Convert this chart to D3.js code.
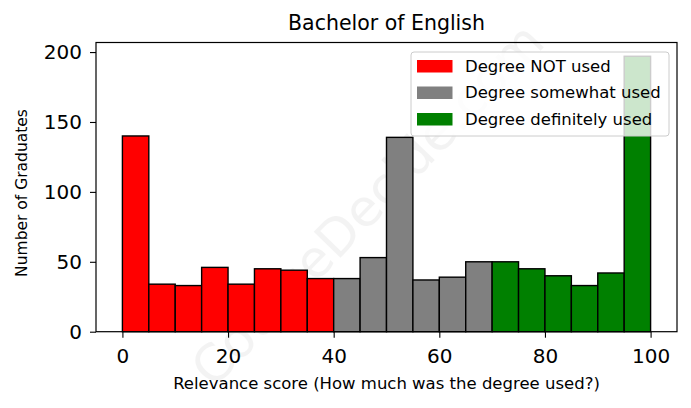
<!DOCTYPE html>
<html><head><meta charset="utf-8">
<script src="https://cdn.jsdelivr.net/npm/d3@7"></script>
<style>body{margin:0;background:#fff}svg{display:block}text{font-family:"DejaVu Sans",sans-serif}</style>
</head><body>
<svg id="c" width="691" height="408"></svg>
<script>
const binStarts = [0,5,10,15,20,25,30,35,40,45,50,55,60,65,70,75,80,85,90,95];
const counts = [140,34,33,46,34,45,44,38,38,53,139,37,39,50,50,45,40,33,42,197];
const groups = ["Degree NOT used","Degree somewhat used","Degree definitely used"];
const groupColors = ["#ff0000","#808080","#008000"];
const groupLimits = [40,70,100];
const xTicks = [0,20,40,60,80,100];
const yTicks = [0,50,100,150,200];
const binWidth = 5;

const svg = d3.select("#c");
const L=96,R=677,T=42.5,B=331.7;
const x = d3.scaleLinear().domain([-5,105]).range([L,R]);
const y = d3.scaleLinear().domain([0,d3.max(counts)*1.05]).range([B,T]);
const groupOf = s => groupLimits.findIndex(l => s < l);

// watermark
svg.append("text").attr("transform","translate(370,207) rotate(-46)")
  .attr("text-anchor","middle").attr("dominant-baseline","middle")
  .attr("font-size",51).attr("fill","#000").attr("opacity",0.045)
  .text("CourseDecide.com");

svg.append("g").selectAll("rect").data(binStarts).join("rect")
  .attr("x",d=>x(d)).attr("width",d=>x(d+binWidth)-x(d))
  .attr("y",(d,i)=>y(counts[i])).attr("height",(d,i)=>y(0)-y(counts[i]))
  .attr("fill",d=>groupColors[groupOf(d)]).attr("stroke","#000").attr("stroke-width",1.4);

const xa = svg.append("g").attr("transform",`translate(0,${B})`)
  .call(d3.axisBottom(x).tickValues(xTicks).tickSize(6).tickFormat(d3.format("d")));
const ya = svg.append("g").attr("transform",`translate(${L},0)`)
  .call(d3.axisLeft(y).tickValues(yTicks).tickSize(6).tickPadding(8).tickFormat(d3.format("d")));
[xa,ya].forEach(a=>{a.select(".domain").remove();a.selectAll("line").attr("stroke","#000").attr("stroke-width",1.1);
  a.selectAll("text").attr("font-size",20).attr("fill","#000").attr("font-family","DejaVu Sans");});
xa.selectAll("text").attr("y",363.3-B).attr("dy",0);

svg.append("rect").attr("x",L).attr("y",T).attr("width",R-L).attr("height",B-T)
  .attr("fill","none").attr("stroke","#000").attr("stroke-width",1.2);

svg.append("text").attr("x",(L+R)/2).attr("y",30).attr("text-anchor","middle")
  .attr("font-size",20.5).attr("fill","#000").text("Bachelor of English");
svg.append("text").attr("x",(L+R)/2).attr("y",389).attr("text-anchor","middle")
  .attr("font-size",16.5).attr("fill","#000").text("Relevance score (How much was the degree used?)");
svg.append("text").attr("transform",`translate(27,193) rotate(-90)`).attr("text-anchor","middle")
  .attr("font-size",15.5).attr("fill","#000").text("Number of Graduates");

// legend
const lg = svg.append("g");
lg.append("rect").attr("x",411).attr("y",52).attr("width",258).attr("height",84).attr("rx",3)
  .attr("fill","#fff").attr("fill-opacity",0.8).attr("stroke","#cccccc").attr("stroke-width",1);
groups.forEach((g,i)=>{
  const cy = 66 + i*26.5;
  lg.append("rect").attr("x",417).attr("y",cy-6).attr("width",35.5).attr("height",12.5).attr("fill",groupColors[i]);
  lg.append("text").attr("x",465).attr("y",cy).attr("dominant-baseline","central")
    .attr("font-size",16.5).attr("fill","#000").text(g);
});
</script>
</body></html>
